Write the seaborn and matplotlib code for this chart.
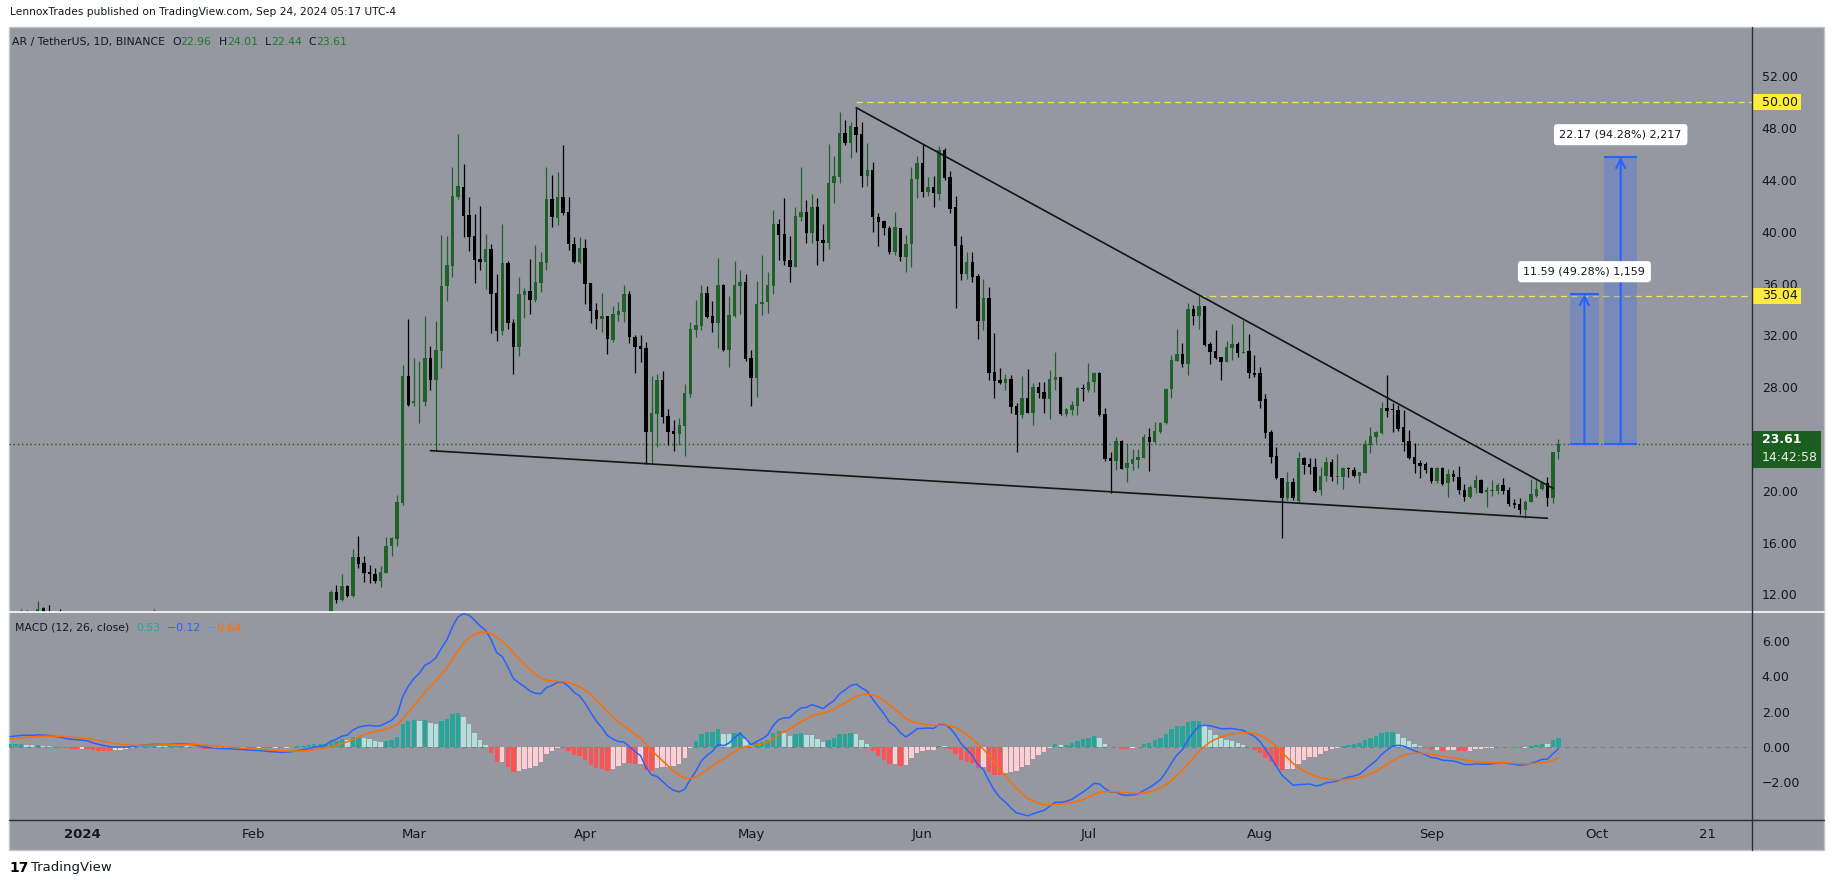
import numpy as np
import pandas as pd
import matplotlib
matplotlib.use("Agg")
import matplotlib.pyplot as plt
import matplotlib.dates as mdates
import matplotlib.transforms as mtransforms
from matplotlib.patches import Rectangle
from matplotlib.lines import Line2D
from matplotlib.ticker import FuncFormatter, FixedLocator
import seaborn as sns

# ---------------- data (AR / TetherUS, 1D) ----------------
START = "2023-12-19"
# 2023-12-01 .. 2023-12-18 closes, only used to seed the MACD averages
warmup_close = [7.6, 7.8, 8.0, 8.3, 8.2, 8.5, 8.7, 8.9, 8.8, 8.6, 8.9, 9.2, 9.0, 9.3, 9.6, 9.5, 9.8, 10.0]

open_ = [
    # Dec 19-31 (mostly below the visible range)
    10.0, 10.3, 10.4, 10.6, 10.4, 10.3, 10.95, 10.5, 10.45, 10.2, 10.1, 9.8, 9.9,
    # Jan
    10.1, 10.2, 9.9, 8.9, 9.1, 9.0, 8.9, 9.2, 9.5, 9.4, 9.8, 10.1, 10.3, 10.0, 10.2, 9.8,
    9.9, 10.1, 10.2, 10.4, 10.0, 9.7, 9.3, 9.0, 9.1, 9.2, 9.4, 9.3, 9.2, 9.0, 9.1,
    # Feb
    8.9, 8.8, 8.9, 8.6, 8.4, 8.5, 8.3, 8.7, 8.9, 9.3, 9.2, 9.6, 9.9, 9.7,
    10.3, 12.21, 11.57, 12.65, 11.9, 14.87, 14.4, 13.7, 13.6, 13.0, 13.68, 15.7, 16.31, 19.04, 28.87,
    # Mar
    26.8, 26.9, 26.86, 30.28, 28.56, 30.82, 35.82, 37.39, 42.71, 43.44, 41.3, 39.68, 37.9, 37.7, 38.67,
    35.3, 32.37, 37.62, 32.99, 31.13, 35.12, 35.43, 34.74, 36.07, 37.62, 42.54, 41.1, 42.66, 41.5, 39.06, 37.69,
    # Apr
    38.77, 36.02, 33.96, 33.27, 33.5, 31.64, 33.57, 33.83, 35.2, 31.9, 31.18, 31.0, 24.56, 25.93, 28.55,
    25.77, 24.62, 24.38, 25.0, 27.47, 32.42, 32.73, 35.25, 33.5, 32.98, 35.89, 30.87, 33.5, 35.81, 36.1,
    # May
    30.23, 28.68, 34.42, 34.55, 35.84, 40.6, 39.83, 37.82, 37.31, 41.17, 41.5, 39.88, 41.89, 39.36, 39.16,
    43.74, 44.25, 47.6, 46.88, 48.11, 47.52, 44.33, 44.74, 41.16, 40.83, 40.26, 38.41, 40.26, 38.08, 39.03, 44.07,
    # Jun
    45.28, 43.1, 43.43, 42.92, 46.31, 44.25, 41.89, 38.98, 36.74, 37.69, 36.61, 33.11, 34.91, 29.14, 28.55,
    28.3, 28.63, 26.54, 25.85, 27.14, 26.03, 28.01, 27.65, 27.09, 28.55, 28.78, 25.93, 26.24, 26.55, 27.91,
    # Jul
    27.79, 28.4, 29.12, 25.93, 22.51, 22.33, 23.85, 21.79, 22.07, 22.38, 22.56, 24.13, 23.8, 24.57, 25.21,
    27.84, 30.05, 30.57, 29.79, 34.04, 33.53, 34.27, 31.34, 30.82, 30.31, 29.97, 31.05, 31.34, 30.67, 30.8, 29.12,
    # Aug
    29.12, 27.09, 24.57, 22.69, 20.96, 19.42, 20.66, 19.24, 22.51, 22.07, 21.81, 20.06, 21.14, 22.25, 21.09,
    21.09, 21.71, 21.6, 21.14, 21.4, 23.51, 24.13, 24.49, 26.37, 26.31, 26.24, 24.9, 23.84, 22.58, 22.12, 22.07,
    # Sep
    21.73, 20.78, 21.73, 20.58, 21.27, 21.09, 20.06, 19.5, 20.19, 20.83, 19.88, 20.01, 20.01, 20.45, 20.06,
    19.08, 18.98, 18.52, 19.16, 19.6, 20.11, 20.58, 19.47, 22.96,
]
high = [
    10.5, 10.6, 10.9, 10.8, 10.6, 11.5, 11.0, 11.17, 10.6, 10.87, 10.3, 10.1, 10.3,
    10.4, 10.5, 10.0, 9.3, 9.3, 9.1, 9.4, 9.7, 9.7, 9.9, 10.3, 10.5, 10.4, 10.87, 10.3, 10.1,
    10.3, 10.4, 10.5, 10.75, 10.1, 9.8, 9.4, 9.3, 9.4, 9.6, 9.5, 9.4, 9.3, 9.3, 9.2,
    9.1, 9.0, 9.0, 8.7, 8.7, 8.6, 8.8, 9.1, 9.4, 9.5, 9.8, 10.1, 10.0, 10.4,
    12.34, 12.75, 13.58, 12.73, 15.51, 16.51, 14.97, 14.27, 14.02, 14.2, 16.41, 16.46, 19.65, 29.72, 33.27,
    30.28, 30.02, 33.5, 31.18, 33.11, 39.76, 39.68, 44.98, 47.55, 45.24, 42.66, 41.35, 42.0, 39.83, 39.06,
    36.74, 40.6, 37.75, 33.27, 36.49, 35.69, 37.88, 38.98, 38.42, 45.03, 44.39, 44.65, 46.71, 42.66, 39.62, 39.62,
    39.44, 36.02, 34.48, 35.25, 33.5, 34.27, 34.55, 35.89, 35.4, 32.03, 32.03, 31.49, 28.86, 28.99, 29.25,
    26.29, 25.47, 25.6, 28.25, 33.03, 34.73, 35.89, 35.81, 34.65, 37.95, 35.97, 35.04, 37.74, 37.05, 36.71,
    30.87, 36.2, 38.21, 36.92, 41.68, 40.99, 42.58, 39.67, 41.89, 44.98, 42.45, 42.92, 42.58, 40.57, 46.75,
    45.85, 49.22, 48.63, 48.5, 49.58, 48.45, 46.83, 45.36, 41.42, 40.91, 40.47, 41.5, 40.32, 39.75, 45.03, 45.85,
    46.75, 44.25, 44.33, 46.65, 46.49, 44.69, 42.79, 39.67, 38.46, 38.41, 36.71, 36.35, 35.73, 32.21, 29.45,
    28.99, 28.94, 26.75, 28.86, 29.37, 28.3, 28.42, 28.42, 29.32, 30.74, 28.78, 26.36, 26.96, 28.04, 28.25,
    29.9, 29.2, 29.2, 26.42, 23.02, 24.18, 23.92, 23.67, 23.23, 23.23, 24.39, 24.83, 25.34, 25.34, 27.91,
    30.49, 32.47, 31.39, 34.48, 34.35, 35.12, 34.27, 31.52, 32.42, 30.31, 31.6, 32.88, 31.47, 33.19, 32.11, 30.49,
    29.54, 27.45, 24.7, 23.41, 21.02, 21.48, 20.97, 23.02, 22.64, 22.51, 22.51, 21.81, 22.58, 22.46, 22.84,
    21.86, 21.81, 21.81, 21.48, 23.92, 24.95, 24.64, 26.88, 28.94, 26.75, 26.63, 26.24, 24.7, 23.66, 22.38, 22.25,
    21.81, 21.81, 21.81, 21.66, 21.6, 21.91, 20.52, 20.45, 21.22, 20.91, 20.27, 20.83, 20.63, 20.96, 20.32,
    19.34, 19.42, 19.29, 20.89, 20.83, 20.78, 21.04, 23.02, 24.01,
]
low = [
    9.8, 10.0, 10.1, 10.2, 10.0, 10.2, 10.4, 10.2, 10.0, 9.9, 9.6, 9.6, 9.7,
    9.9, 9.7, 8.2, 8.7, 8.7, 8.6, 8.8, 8.9, 9.1, 9.2, 9.6, 9.9, 9.9, 9.9, 9.6, 9.6,
    9.7, 9.9, 10.0, 9.9, 9.5, 9.1, 8.7, 8.8, 8.9, 9.0, 9.1, 9.0, 8.8, 8.9, 8.7,
    8.6, 8.6, 8.5, 8.2, 8.3, 8.2, 8.2, 8.6, 8.8, 9.0, 9.1, 9.5, 9.6, 9.6,
    10.2, 11.32, 11.49, 11.83, 11.83, 14.02, 12.99, 12.91, 12.91, 12.6, 13.68, 14.97, 15.7, 18.91, 26.55,
    26.55, 25.26, 26.55, 27.79, 23.08, 29.51, 34.66, 36.54, 42.51, 39.58, 38.55, 36.07, 37.05, 35.61, 32.16,
    31.6, 32.03, 32.47, 29.02, 30.41, 33.32, 33.65, 34.61, 35.38, 37.05, 40.4, 40.53, 41.3, 38.6, 37.56, 37.56,
    34.42, 32.98, 32.47, 32.29, 30.56, 31.52, 33.11, 33.06, 31.44, 29.12, 29.97, 22.04, 22.04, 23.41, 25.26,
    23.54, 23.1, 23.54, 22.69, 27.27, 31.9, 32.42, 33.32, 32.29, 31.05, 30.82, 29.58, 33.45, 33.65, 30.05,
    26.55, 27.27, 33.57, 33.75, 35.2, 37.82, 37.44, 36.15, 37.31, 40.86, 39.16, 39.11, 37.44, 37.77, 38.67,
    42.25, 43.74, 46.7, 45.67, 46.13, 43.48, 43.56, 40.01, 38.93, 39.75, 38.26, 38.2, 37.77, 36.87, 37.31, 42.58,
    42.71, 42.79, 41.94, 42.45, 44.0, 41.42, 34.09, 36.27, 36.35, 36.14, 31.72, 32.41, 28.55, 27.19, 28.22,
    27.78, 25.98, 23.02, 25.64, 25.98, 25.08, 27.19, 26.03, 25.54, 27.78, 25.85, 25.8, 25.86, 25.86, 26.96,
    27.66, 27.63, 25.78, 22.3, 19.86, 21.61, 21.66, 20.71, 21.61, 21.79, 22.51, 21.56, 23.67, 24.49, 25.16,
    27.14, 30.05, 29.59, 28.94, 32.81, 32.5, 31.18, 29.79, 30.15, 28.56, 29.97, 30.1, 30.31, 30.67, 28.74, 28.76,
    26.42, 24.1, 22.12, 20.89, 16.33, 19.29, 19.29, 19.16, 21.3, 21.27, 19.88, 19.68, 20.78, 20.78, 20.52,
    20.11, 21.09, 21.04, 20.58, 21.4, 22.94, 23.72, 24.39, 25.72, 24.57, 24.64, 23.1, 22.43, 21.4, 20.96, 21.35,
    20.63, 20.58, 20.45, 19.5, 20.78, 19.75, 19.24, 19.42, 19.86, 19.8, 18.72, 19.6, 19.75, 19.75, 18.83,
    18.64, 18.21, 17.87, 19.16, 19.5, 20.06, 18.83, 19.08, 22.44,
]
close = [
    10.3, 10.4, 10.6, 10.4, 10.3, 10.85, 10.5, 10.45, 10.2, 10.1, 9.8, 9.9, 10.1,
    10.2, 9.9, 8.9, 9.1, 9.0, 8.9, 9.2, 9.5, 9.4, 9.8, 10.1, 10.3, 10.0, 10.2, 9.8, 9.9,
    10.1, 10.2, 10.4, 10.0, 9.7, 9.3, 9.0, 9.1, 9.2, 9.4, 9.3, 9.2, 9.0, 9.1, 8.9,
    8.8, 8.9, 8.6, 8.4, 8.5, 8.3, 8.7, 8.9, 9.3, 9.2, 9.6, 9.9, 9.7, 10.3,
    12.21, 11.57, 12.65, 11.9, 14.87, 14.35, 13.63, 13.6, 13.0, 13.71, 15.74, 16.33, 19.14, 28.87, 26.63,
    26.9, 26.95, 30.28, 28.56, 30.87, 35.82, 37.44, 42.77, 43.54, 41.25, 39.58, 37.83, 37.7, 38.67, 35.2,
    32.37, 37.57, 32.99, 31.13, 35.2, 35.43, 34.74, 36.13, 37.65, 42.54, 41.12, 42.66, 41.48, 39.03, 37.64, 38.77,
    35.97, 33.88, 33.27, 33.5, 31.72, 33.65, 33.88, 35.17, 31.9, 31.13, 30.97, 24.56, 25.98, 28.55, 25.67,
    24.56, 24.41, 25.08, 27.53, 32.47, 32.78, 35.25, 33.39, 32.98, 35.89, 30.87, 33.57, 35.89, 36.1, 30.15,
    28.68, 34.42, 34.55, 35.89, 40.6, 39.75, 37.77, 37.31, 41.22, 41.5, 39.88, 41.89, 39.31, 39.16, 43.74,
    44.3, 47.6, 46.83, 48.17, 47.47, 44.33, 44.74, 41.16, 40.78, 40.26, 38.41, 40.34, 38.08, 39.05, 44.07, 45.28,
    43.1, 43.43, 42.97, 46.29, 44.18, 41.76, 38.93, 36.74, 37.69, 36.53, 33.11, 34.91, 29.07, 28.47, 28.3,
    28.63, 26.49, 25.85, 27.14, 26.03, 28.01, 27.57, 27.09, 28.63, 28.78, 25.93, 26.31, 26.63, 27.91, 27.84,
    28.4, 29.12, 25.86, 22.46, 22.33, 23.85, 21.69, 22.18, 22.46, 22.64, 24.18, 23.77, 24.62, 25.26, 27.86,
    30.1, 30.57, 29.79, 34.04, 33.53, 34.27, 31.26, 30.75, 30.23, 29.97, 31.08, 31.34, 30.62, 30.75, 29.12, 28.94,
    26.96, 24.49, 22.64, 20.96, 19.42, 20.66, 19.42, 22.51, 21.99, 21.81, 20.01, 21.14, 22.25, 21.04, 21.17,
    21.73, 21.66, 21.14, 21.48, 23.59, 24.23, 24.57, 26.37, 26.19, 26.24, 24.77, 23.74, 22.51, 22.07, 21.91, 21.6,
    20.78, 21.73, 20.52, 21.3, 21.04, 20.06, 19.5, 20.27, 20.83, 19.86, 20.06, 20.06, 20.45, 20.01, 18.98,
    18.93, 18.52, 19.16, 19.75, 20.14, 20.63, 19.47, 22.97, 23.61,
]

# drawings on the chart
trend_top_dates = ["2024-05-20", "2024-09-23"]
trend_top_prices = [49.58, 20.19]
trend_low_dates = ["2024-03-04", "2024-09-22"]
trend_low_prices = [23.1, 17.88]
levels = [50.00, 35.04]
level_starts = ["2024-05-20", "2024-07-21"]
last_price = 23.61
targets = [35.20, 45.78]
target_spans = [("2024-09-26 02:00", "2024-10-01 07:00"), ("2024-10-02 05:00", "2024-10-08 07:00")]
target_labels = ["11.59 (49.28%) 1,159", "22.17 (94.28%) 2,217"]
price_ticks = [12, 16, 20, 28, 32, 36, 40, 44, 48, 52]
macd_ticks = [-2, 0, 2, 4, 6]
month_ticks = ["2024-01-01", "2024-02-01", "2024-03-01", "2024-04-01", "2024-05-01", "2024-06-01",
               "2024-07-01", "2024-08-01", "2024-09-01", "2024-10-01", "2024-10-21"]
month_labels = ["2024", "Feb", "Mar", "Apr", "May", "Jun", "Jul", "Aug", "Sep", "Oct", "21"]

# ---------------- MACD (12, 26, close) ----------------
all_close = pd.Series(warmup_close + close)
ema_fast = all_close.ewm(span=12, adjust=False).mean()
ema_slow = all_close.ewm(span=26, adjust=False).mean()
macd_full = ema_fast - ema_slow
signal_full = macd_full.ewm(span=9, adjust=False).mean()
hist_full = macd_full - signal_full
n0 = len(warmup_close)
macd = macd_full.values[n0:]
signal = signal_full.values[n0:]
hist = hist_full.values[n0:]
hist_prev = hist_full.shift(1).values[n0:]

dates = pd.date_range(START, periods=len(close), freq="D")
x = mdates.date2num(dates)
o = np.array(open_); h = np.array(high); l = np.array(low); c = np.array(close)

# ---------------- figure ----------------
sns.set_style("white")
plt.rcParams["font.family"] = ["DejaVu Sans"]
W, H = 1835, 886
fig = plt.figure(figsize=(W / 100, H / 100), dpi=100)
fig.patch.set_facecolor("white")
BG = "#9598a1"
TXT = "#131722"
UP = "#1f6128"
DOWN = "#000000"


def px_box(left, top, right, bottom):
    return [left / W, 1 - bottom / H, (right - left) / W, (bottom - top) / H]


fig.add_artist(Rectangle((9 / W, 1 - 850 / H), (1824 - 9) / W, (850 - 27) / H, transform=fig.transFigure,
                         facecolor=BG, edgecolor="#c3c5cc", lw=1, zorder=-5))

ax = fig.add_axes(px_box(9, 27, 1752, 612))
axm = fig.add_axes(px_box(9, 612, 1752, 820))
for a in (ax, axm):
    a.set_facecolor("none")
    for s in a.spines.values():
        s.set_visible(False)

x_left = mdates.date2num(pd.Timestamp("2024-01-01")) - 13.2
x_right = mdates.date2num(pd.Timestamp("2024-01-01")) + 302.0
ax.set_xlim(x_left, x_right)
axm.set_xlim(x_left, x_right)
ax.set_ylim(10.64, 55.81)
axm.set_ylim(-4.17, 7.67)

# candles
colors = np.where(c >= o, UP, DOWN)
ax.vlines(x, l, h, colors=colors, lw=0.9, zorder=3)
body_lo = np.minimum(o, c)
body_h = np.maximum(np.abs(c - o), 0.07)
ax.bar(x, body_h, bottom=body_lo, width=0.62, color=colors, linewidth=0, zorder=4)

# trend lines
ax.plot(mdates.date2num(pd.to_datetime(trend_top_dates)), trend_top_prices, color="#141414", lw=1.2, zorder=5)
ax.plot(mdates.date2num(pd.to_datetime(trend_low_dates)), trend_low_prices, color="#141414", lw=1.2, zorder=5)

# horizontal levels
for lv, st in zip(levels, level_starts):
    ax.hlines(lv, mdates.date2num(pd.Timestamp(st)), x_right, colors="#f5e54a", lw=0.9,
              linestyles=(0, (5, 3.5)), zorder=2)
ax.axhline(last_price, color="#1b5e20", lw=1, ls=(0, (1, 2)), zorder=2)

# projected targets
for tgt, (d0, d1), lab in zip(targets, target_spans, target_labels):
    x0 = mdates.date2num(pd.Timestamp(d0)); x1 = mdates.date2num(pd.Timestamp(d1))
    xc = (x0 + x1) / 2
    ax.add_patch(Rectangle((x0, last_price), x1 - x0, tgt - last_price, facecolor="#2962ff",
                           alpha=0.25, edgecolor="none", zorder=3))
    ax.hlines([last_price, tgt], x0, x1, colors="#2962ff", lw=1.5, zorder=4)
    ax.annotate("", xy=(xc, tgt), xytext=(xc, last_price),
                arrowprops=dict(arrowstyle="->", color="#2962ff", lw=1.5, mutation_scale=16,
                                shrinkA=0, shrinkB=0), zorder=4)
    ax.annotate(lab, xy=(xc, tgt), xytext=(0, 16), textcoords="offset points", ha="center", va="center",
                fontsize=8, color=TXT, zorder=6,
                bbox=dict(boxstyle="round,pad=0.5,rounding_size=0.3", fc="white", ec="none"))

# price scale
ax.yaxis.tick_right()
ax.yaxis.set_major_locator(FixedLocator(price_ticks))
ax.yaxis.set_major_formatter(FuncFormatter(lambda v, p: f"{v:.2f}"))
ax.tick_params(axis="y", length=0, pad=7, labelsize=9, labelcolor=TXT)
ax.tick_params(axis="x", length=0, labelbottom=False)

blend = mtransforms.blended_transform_factory(ax.transAxes, ax.transData)
dx = 1.0 / (1752 - 9)
for lv in levels:
    ax.add_patch(Rectangle((1.0, lv - 0.62), 49 * dx, 1.24, transform=blend, facecolor="#ffeb3b",
                           edgecolor="none", clip_on=False, zorder=20))
    ax.text(1.0 + 10 * dx, lv, f"{lv:.2f}", transform=blend, ha="left", va="center", fontsize=9,
            color=TXT, clip_on=False, zorder=21)
ax.add_patch(Rectangle((1.0, last_price - 1.83), 69 * dx, 2.86, transform=blend, facecolor="#1b5e20",
                       edgecolor="none", clip_on=False, zorder=20))
ax.text(1.0 + 10 * dx, last_price + 0.33, f"{last_price:.2f}", transform=blend, ha="left", va="center",
        fontsize=9, fontweight="bold", color="white", clip_on=False, zorder=21)
ax.text(1.0 + 10 * dx, last_price - 1.06, "14:42:58", transform=blend, ha="left", va="center",
        fontsize=9, color="#e6f0e6", clip_on=False, zorder=21)

# ---------------- MACD pane ----------------
hist_colors = np.where(hist >= 0,
                       np.where(hist > hist_prev, "#26a69a", "#b2dfdb"),
                       np.where(hist < hist_prev, "#ff5252", "#ffcdd2"))
axm.axhline(0, color="#7a7d87", lw=0.8, ls=(0, (4, 4)), zorder=1)
axm.bar(x, hist, width=0.8, color=hist_colors, linewidth=0, zorder=2)
sns.lineplot(x=x, y=macd, ax=axm, color="#2962ff", linewidth=1.1, zorder=3)
sns.lineplot(x=x, y=signal, ax=axm, color="#ff6d00", linewidth=1.1, zorder=3)
axm.set_xlabel(""); axm.set_ylabel("")

axm.yaxis.tick_right()
axm.yaxis.set_major_locator(FixedLocator(macd_ticks))
axm.yaxis.set_major_formatter(FuncFormatter(lambda v, p: f"{v:.2f}".replace("-", "\u2212")))
axm.tick_params(axis="y", length=0, pad=7, labelsize=9, labelcolor=TXT)
axm.set_xticks(mdates.date2num(pd.to_datetime(month_ticks)))
axm.set_xticklabels(month_labels)
axm.tick_params(axis="x", length=0, pad=5.5, labelsize=9.5, labelcolor=TXT)
axm.get_xticklabels()[0].set_fontweight("bold")

# separators
fig.add_artist(Line2D([9 / W, 1824 / W], [1 - 612 / H] * 2, color="white", lw=1.2))
fig.add_artist(Line2D([9 / W, 1824 / W], [1 - 820 / H] * 2, color="#2a2e39", lw=1))
fig.add_artist(Line2D([1752 / W] * 2, [1 - 27 / H, 1 - 850 / H], color="#2a2e39", lw=1))


# ---------------- texts ----------------
def chain(axis, x0, y0, parts, size):
    t = axis.annotate(parts[0][0], xy=(x0 / W, 1 - y0 / H), xycoords="figure fraction", ha="left",
                      va="center", fontsize=size, color=parts[0][1], annotation_clip=False)
    for s, col in parts[1:]:
        t = axis.annotate(s, xy=(1, 0.5), xycoords=t, ha="left", va="center", fontsize=size, color=col,
                          annotation_clip=False)
    return t


fig.text(10 / W, 1 - 12 / H, "LennoxTrades published on TradingView.com, Sep 24, 2024 05:17 UTC-4",
         fontsize=7.7, color=TXT, ha="left", va="center")
GRN = "#1f7a2e"
chain(ax, 12, 42, [("AR / TetherUS, 1D, BINANCE  ", TXT), ("O", TXT), ("22.96", GRN), ("  H", TXT),
                   ("24.01", GRN), ("  L", TXT), ("22.44", GRN), ("  C", TXT), ("23.61", GRN)], 7.8)
chain(axm, 15, 628, [("MACD (12, 26, close)  ", TXT), ("0.53", "#26a69a"), ("  \u22120.12", "#2962ff"),
                     ("  \u22120.64", "#ff6d00")], 7.8)
fig.text(9 / W, 1 - 868 / H, "17", fontsize=10, fontweight="heavy", color="#000000", ha="left", va="center")
fig.text(31 / W, 1 - 868 / H, "TradingView", fontsize=9.5, color=TXT, ha="left", va="center")

fig.savefig("out.png", dpi=100, facecolor="white")
